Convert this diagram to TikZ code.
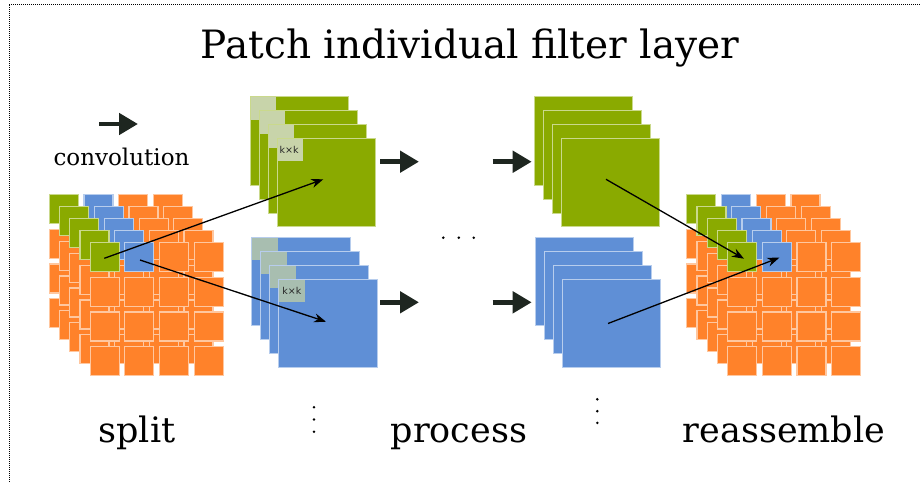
\documentclass[tikz,border=0pt]{standalone}
\usepackage{fontspec}
\setmainfont{DejaVu Serif}
\newfontfamily\kkfont{DejaVu Sans}
\usetikzlibrary{arrows.meta}

\definecolor{leaf}{RGB}{138,170,0}
\definecolor{sky}{RGB}{95,143,214}
\definecolor{tang}{RGB}{255,130,42}
\definecolor{leafpatch}{RGB}{200,212,170}
\definecolor{skypatch}{RGB}{168,190,176}
\definecolor{ink}{RGB}{30,38,32}

\tikzset{
  cell/.style={line width=1.2pt},
  sheet/.style={line width=1pt},
  fatarrow/.style={draw=ink, line width=4.8pt, -{Triangle[length=19pt,width=21pt]}},
  thinarrow/.style={draw=black, line width=1.3pt, -{Stealth[length=12pt,width=9pt]}},
  caption/.style={font=\fontsize{35}{42}\selectfont, anchor=base},
  dotmark/.style={fill=black},
}

% 5 layers of 4x4 feature cells; first cell green, second blue, rest orange
\newcommand{\featurecube}[2]{%
  \foreach \l in {0,...,4}
   \foreach \r in {0,...,3}
    \foreach \c in {0,...,3}{%
      \ifnum\r=0
        \ifnum\c=0 \def\cc{leaf}\else\ifnum\c=1 \def\cc{sky}\else\def\cc{tang}\fi\fi
      \else\def\cc{tang}\fi
      \path[cell, fill=\cc, draw=\cc!45!white]
        (#1+\l*10.2+\c*34.7, #2+\l*12+\r*34.8) rectangle ++(29,29);
    }%
}

% stack of 4 feature maps; #3 fill colour, #4 patch colour (or none)
\newcommand{\featstack}[4]{%
  \foreach \l in {0,...,3}{%
    \path[sheet, fill=#3, draw=#3!45!white]
      (#1+\l*9, #2+\l*13.9) rectangle ++(98.5,88.5);
    \if\relax\detokenize{#4}\relax\else
      \path[fill=#4] (#1+\l*9+0.5, #2+\l*13.9+0.5) rectangle ++(25.5,22.5);
    \fi
  }%
}

\begin{document}
\begin{tikzpicture}[x=1pt,y=-1pt]
\useasboundingbox (0,0) rectangle (920,482);

% dotted frame
\draw[densely dotted, line width=1pt] (9,482) -- (9,4) -- (920,4);

% title
\node[anchor=base, font=\fontsize{39}{47}\selectfont] (title) at (470,58) {Patch individual filter layer};

% legend
\coordinate (convA) at (99,124);
\coordinate (convB) at (138,124);
\draw[fatarrow] (convA) -- (convB);
\node[anchor=base, font=\fontsize{23}{28}\selectfont] (convlabel) at (121.5,165) {convolution};

% split input
\featurecube{49.3}{194.3}

% per-patch processing stacks
\featstack{250}{96.7}{leaf}{leafpatch}
\featstack{251.7}{237.3}{sky}{skypatch}
\node[font=\kkfont\fontsize{9.5}{11}\selectfont, text=black!85, inner sep=0pt] (kkg) at (289.2,150) {k×k};
\node[font=\kkfont\fontsize{9.5}{11}\selectfont, text=black!85, inner sep=0pt] (kkb) at (291.8,290.6) {k×k};

\featstack{534.3}{96.7}{leaf}{}
\featstack{535}{237.3}{sky}{}

% reassembled output
\featurecube{686.8}{194.3}

% processing arrows
\coordinate (ga1) at (380,161.7);
\coordinate (ga2) at (419,161.7);
\coordinate (gb1) at (492.7,161.7);
\coordinate (gb2) at (531.7,161.7);
\coordinate (ba1) at (380,302.3);
\coordinate (ba2) at (419,302.3);
\coordinate (bb1) at (492.7,302.3);
\coordinate (bb2) at (531.7,302.3);
\draw[fatarrow] (ga1) -- (ga2);
\draw[fatarrow] (gb1) -- (gb2);
\draw[fatarrow] (ba1) -- (ba2);
\draw[fatarrow] (bb1) -- (bb2);

% patch routing
\coordinate (inG) at (104.3,258.3);
\coordinate (inB) at (140,260);
\coordinate (stG) at (323.3,179.3);
\coordinate (stB) at (326,321.7);
\coordinate (outG) at (606,179.3);
\coordinate (outB) at (608,323.5);
\coordinate (reG) at (744,258.7);
\coordinate (reB) at (779.3,257.7);
\draw[thinarrow] (inG) -- (stG);
\draw[thinarrow] (inB) -- (stB);
\draw[thinarrow] (outG) -- (reG);
\draw[thinarrow] (outB) -- (reB);

% ellipses
\foreach \x in {443.3,458.8,473.7} \fill[dotmark] (\x,237.7) circle (1.4);
\foreach \y in {407.3,419.5,431.7} \fill[dotmark] (314,\y) circle (1.4);
\foreach \y in {399.3,411.2,422.9} \fill[dotmark] (597.3,\y) circle (1.4);

% stage captions
\node[caption] (split) at (137,442) {split};
\node[caption] (process) at (459,442) {process};
\node[caption] (reassemble) at (784,442) {reassemble};
\end{tikzpicture}
\end{document}
